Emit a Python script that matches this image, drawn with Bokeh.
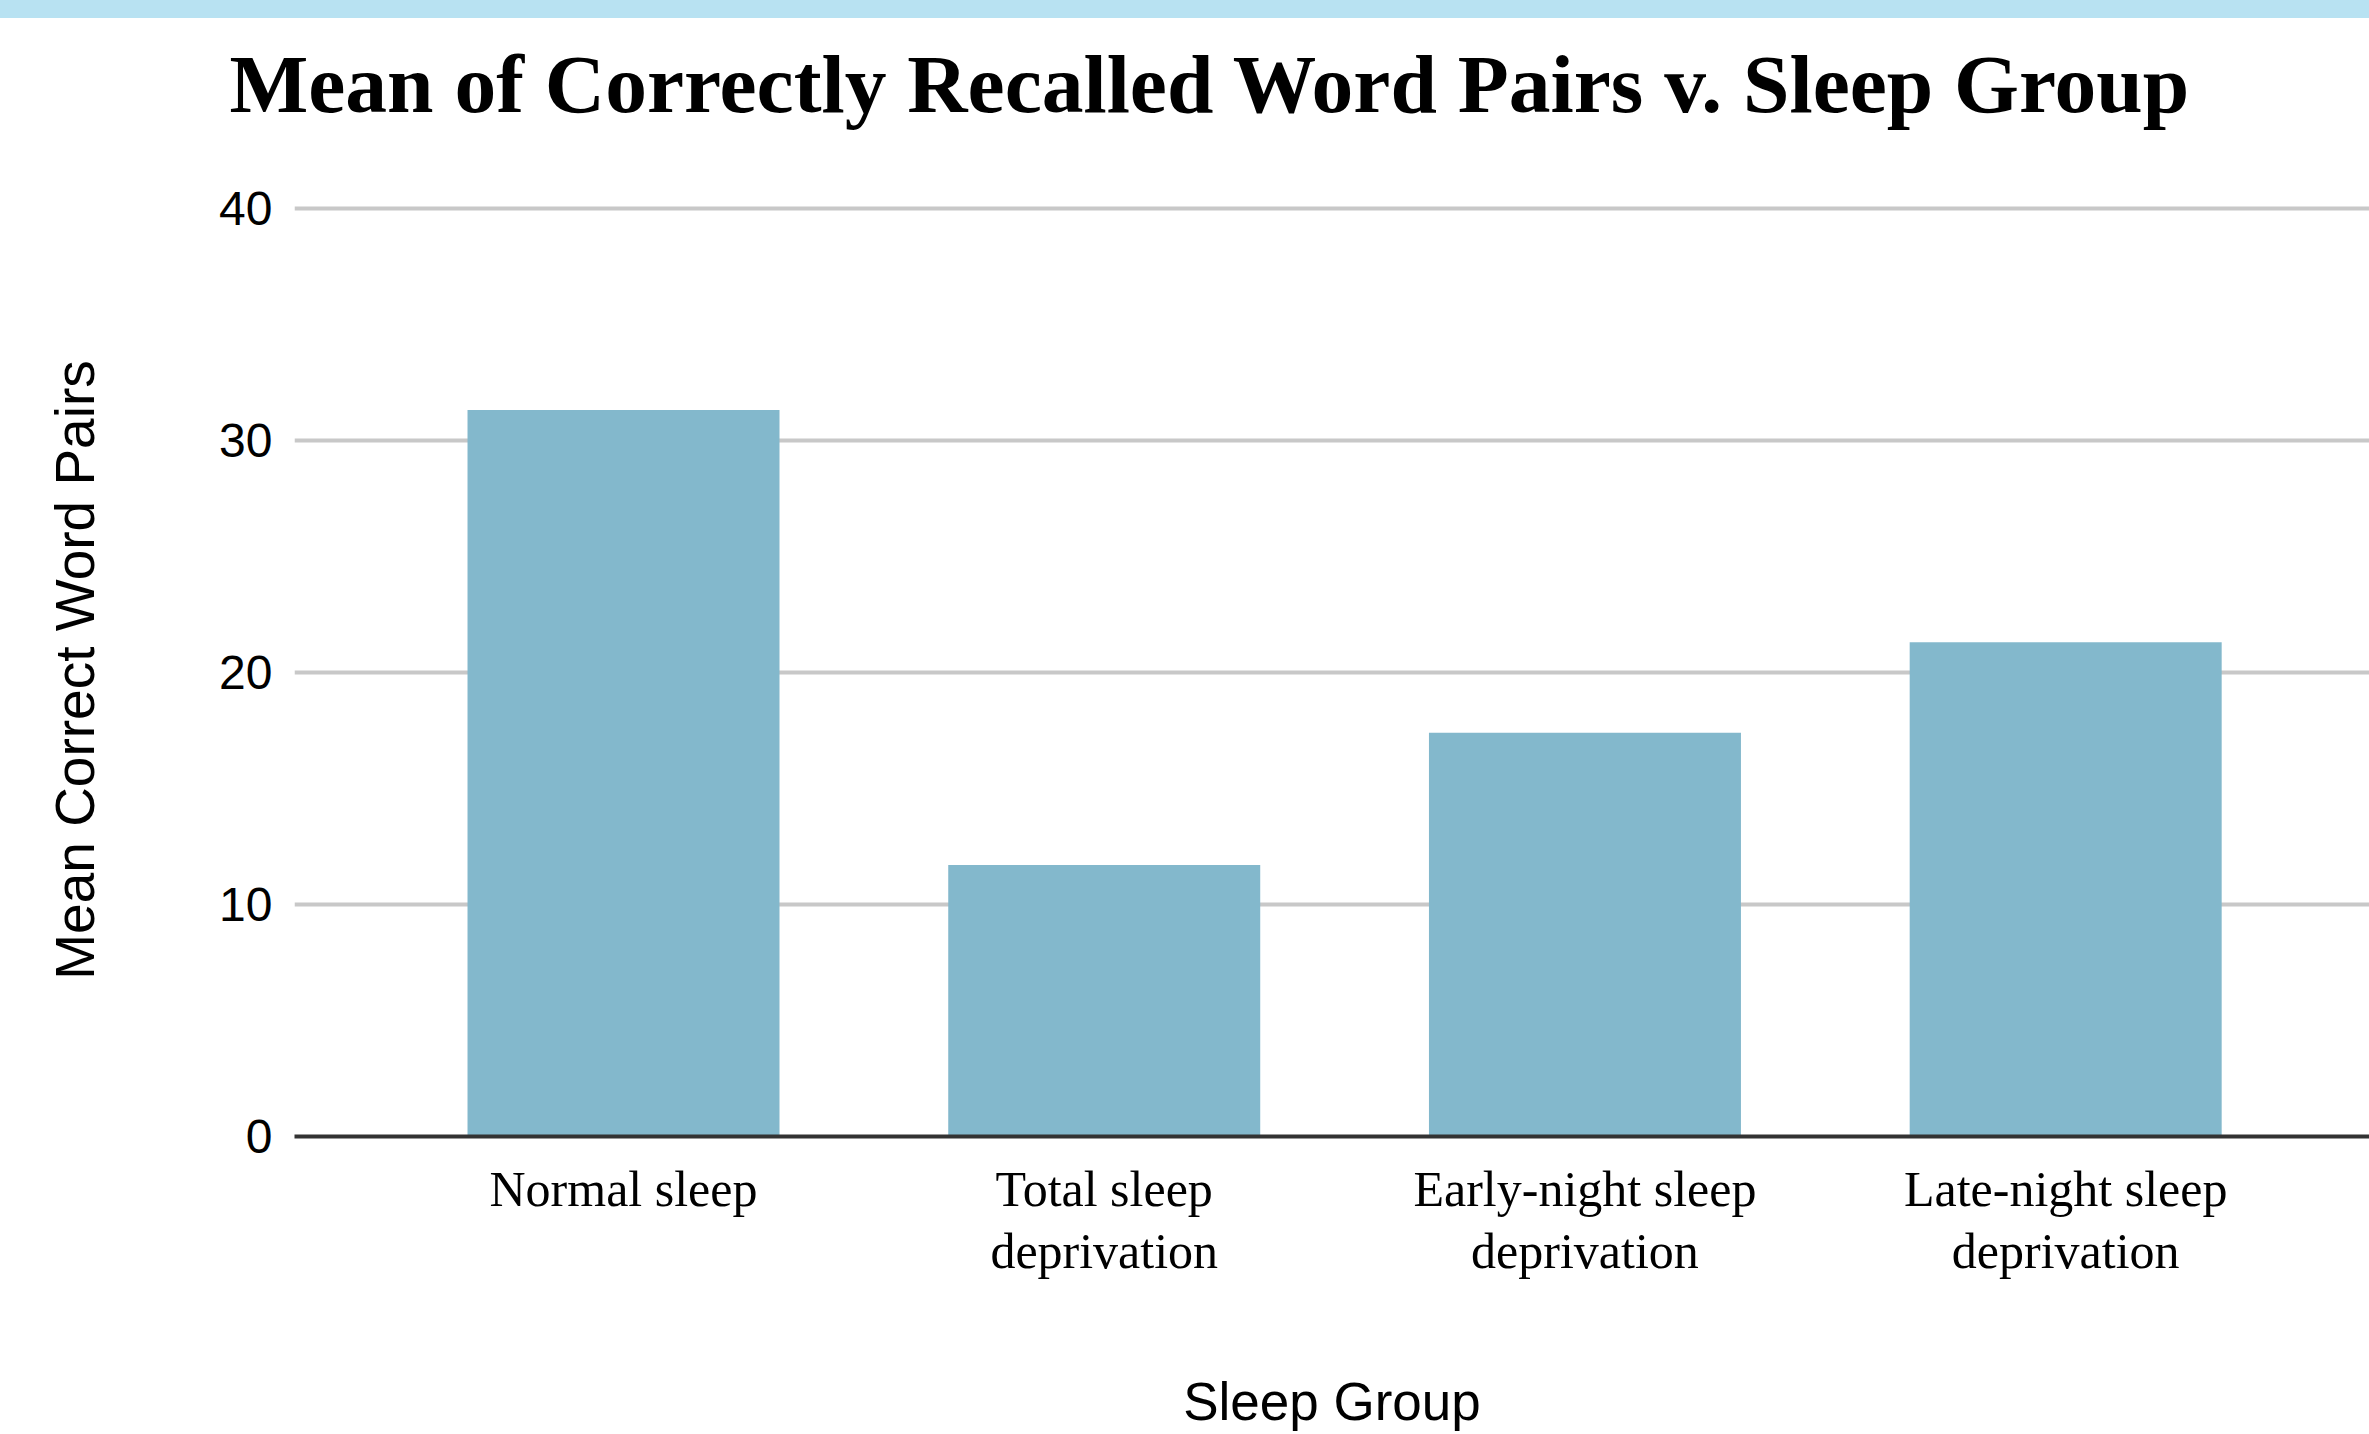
from bokeh.plotting import figure
from bokeh.models import Range1d, FixedTicker, Div, LinearAxis
from bokeh.layouts import column
from bokeh.embed import file_html
from bokeh.resources import INLINE

# ---- data ----
categories = ["Normal sleep", "Total sleep deprivation",
              "Early-night sleep deprivation", "Late-night sleep deprivation"]
tick_labels = ["Normal sleep", "Total sleep\ndeprivation",
               "Early-night sleep\ndeprivation", "Late-night sleep\ndeprivation"]
values = [31.3, 11.7, 17.4, 21.3]
y_ticks = [0, 10, 20, 30, 40]

title_text = "Mean of Correctly Recalled Word Pairs v. Sleep Group"
x_title = "Sleep Group"
y_title = "Mean Correct Word Pairs"

BAR = "#83b8cc"
GRID = "#c8c8c8"
BAND = "#b8e2f2"

xs = list(range(len(categories)))

band = Div(text="", width=2369, height=18, margin=0,
           styles={"background-color": BAND})

p = figure(width=2369, height=1416,
           x_range=Range1d(-0.6844, 3.632), y_range=Range1d(0, 40.2),
           output_backend="svg", toolbar_location=None,
           min_border_left=294, min_border_right=0,
           min_border_top=185, min_border_bottom=298)
p.outline_line_color = None
p.background_fill_color = "white"
p.border_fill_color = "white"

p.vbar(x=xs, top=values, bottom=0, width=0.649, fill_color=BAR, line_color=None)

# title
p.title.text = title_text
p.title.align = "left"
p.title.offset = -65
p.title.standoff = 10
p.title.text_font = "Liberation Serif"
p.title.text_font_style = "bold"
p.title.text_font_size = "83.5px"
p.title.text_color = "#000000"

# y axis
p.yaxis.ticker = FixedTicker(ticks=y_ticks)
p.yaxis.axis_line_color = None
p.yaxis.major_tick_line_color = None
p.yaxis.minor_tick_line_color = None
p.yaxis.major_tick_out = 0
p.yaxis.major_tick_in = 0
p.yaxis.major_label_standoff = 22
p.yaxis.major_label_text_font = "Liberation Sans"
p.yaxis.major_label_text_font_size = "48px"
p.yaxis.major_label_text_color = "#000000"
p.yaxis.axis_label = y_title
p.yaxis.axis_label_text_font = "Liberation Sans"
p.yaxis.axis_label_text_font_size = "55px"
p.yaxis.axis_label_text_font_style = "normal"
p.yaxis.axis_label_text_color = "#000000"
p.yaxis.axis_label_standoff = 110

# x axis (the one below the bars)
xax = p.below[0]
xax.ticker = FixedTicker(ticks=xs)
xax.major_label_overrides = {i: lab for i, lab in zip(xs, tick_labels)}
xax.axis_line_color = "#333333"
xax.axis_line_width = 4
xax.major_tick_line_color = None
xax.minor_tick_line_color = None
xax.major_tick_out = 0
xax.major_tick_in = 0
xax.major_label_standoff = 24
xax.major_label_text_font = "Liberation Serif"
xax.major_label_text_font_size = "50px"
xax.major_label_text_line_height = 1.12
xax.major_label_text_color = "#000000"
xax.axis_label = x_title
xax.axis_label_text_font = "Liberation Sans"
xax.axis_label_text_font_size = "53px"
xax.axis_label_text_font_style = "normal"
xax.axis_label_text_color = "#000000"
xax.axis_label_standoff = 90

# invisible spacer between the title and the plotting area
# (a white tick on the white border, no label)
spacer = LinearAxis(ticker=FixedTicker(ticks=[xs[0]]), axis_line_color=None,
                    major_tick_line_color="#ffffff", major_tick_line_width=1,
                    minor_tick_line_color=None,
                    major_tick_out=69, major_tick_in=0,
                    minor_tick_out=0, minor_tick_in=0,
                    major_label_standoff=0,
                    major_label_overrides={xs[0]: ""},
                    major_label_text_font_size="1px",
                    major_label_text_color="#ffffff")
p.add_layout(spacer, "above")

# grids
p.xgrid.grid_line_color = None
p.ygrid.ticker = FixedTicker(ticks=y_ticks)
p.ygrid.grid_line_color = GRID
p.ygrid.grid_line_width = 4

layout = column(band, p, spacing=0)
open("out.html", "w").write(file_html(layout, INLINE))
